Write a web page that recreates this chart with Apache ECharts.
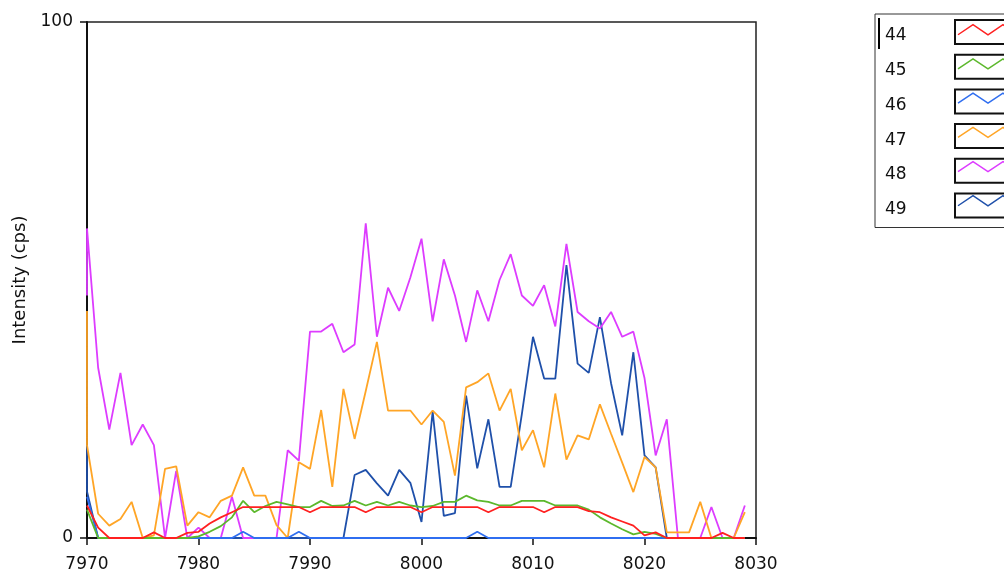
<!DOCTYPE html>
<html>
<head>
<meta charset="utf-8">
<script src="https://cdn.jsdelivr.net/npm/echarts@6/dist/echarts.min.js"></script>
<style>html,body{margin:0;padding:0;background:#fff;}#c{width:1004px;height:573px;}</style>
</head>
<body>
<div id="c"></div>
<script>
const xValues = [
  7970, 7971, 7972, 7973, 7974, 7975, 7976, 7977, 7978, 7979,
  7980, 7981, 7982, 7983, 7984, 7985, 7986, 7987, 7988, 7989,
  7990, 7991, 7992, 7993, 7994, 7995, 7996, 7997, 7998, 7999,
  8000, 8001, 8002, 8003, 8004, 8005, 8006, 8007, 8008, 8009,
  8010, 8011, 8012, 8013, 8014, 8015, 8016, 8017, 8018, 8019,
  8020, 8021, 8022, 8023, 8024, 8025, 8026, 8027, 8028, 8029
];
const seriesNames = ['44', '45', '46', '47', '48', '49'];
const seriesColors = ['#ff2020', '#5cb82c', '#2f6ef0', '#ffa526', '#dd3cff', '#1f50aa'];
const xTicks = [7970, 7980, 7990, 8000, 8010, 8020, 8030];
const yTicks = [0, 100];

const s44 = [
  6.3, 2, 0, 0, 0, 0, 1.1, 0, 0, 1,
  1.2, 2.8, 4, 5, 6, 6, 6, 6, 6, 6,
  5, 6, 6, 6, 6, 5, 6, 6, 6, 6,
  5, 6, 6, 6, 6, 6, 5, 6, 6, 6,
  6, 5, 6, 6, 6, 5.2, 5, 4, 3.2, 2.4,
  0.5, 1.1, 0, 0, 0, 0, 0, 1, 0, 0
];
const s45 = [
  5.5, 0, 0, 0, 0, 0, 0, 0, 0, 0,
  0.3, 1.2, 2.3, 4, 7.2, 5, 6.2, 7, 6.5, 6,
  6, 7.2, 6.2, 6.3, 7.2, 6.3, 7, 6.3, 7, 6.3,
  6, 6.2, 7, 7, 8.2, 7.3, 7, 6.3, 6.3, 7.2,
  7.2, 7.2, 6.3, 6.3, 6.3, 5.5, 4, 2.8, 1.7, 0.7,
  1.2, 0.8, 0, 0, 0, 0, 0, 0, 0, 0
];
const s46 = [
  8, 0, 0, 0, 0, 0, 0, 0, 0, 0,
  0, 0, 0, 0, 1.2, 0, 0, 0, 0, 1.2,
  0, 0, 0, 0, 0, 0, 0, 0, 0, 0,
  0, 0, 0, 0, 0, 1.2, 0, 0, 0, 0,
  0, 0, 0, 0, 0, 0, 0, 0, 0, 0,
  0, 0, 0, 0, 0, 0, 0, 0, 0, 0
];
const s47 = [
  18, 4.7, 2.4, 3.7, 7, 0, 0.5, 13.4, 13.9, 2.4,
  5, 4, 7.2, 8.2, 13.7, 8.2, 8.2, 2.5, 0, 14.7,
  13.4, 24.8, 9.9, 28.9, 19.2, 28.5, 38, 24.7, 24.7, 24.7,
  22, 24.7, 22.5, 12.1, 29.2, 30.2, 31.9, 24.7, 28.9, 17,
  20.9, 13.7, 28, 15.2, 19.9, 19.1, 25.9, 20.2, 14.6, 8.9,
  15.7, 13.7, 1.1, 1.1, 1.1, 7, 0, 0, 0, 5
];
const s48 = [
  60, 33, 21, 32, 18, 22, 18, 0, 13, 0,
  2, 0, 0, 8, 0, 0, 0, 0, 17, 15,
  40, 40, 41.5, 36, 37.5, 61, 39, 48.5, 44, 50.5,
  58, 42, 54, 47, 38, 48, 42, 50, 55, 47,
  45, 49, 41, 57, 43.8, 42, 40.6, 43.8, 39, 40,
  31, 16, 23, 0, 0, 0, 6, 0, 0, 6.3
];
const s49 = [
  9, 0, 0, 0, 0, 0, 0, 0, 0, 0,
  0, 0, 0, 0, 0, 0, 0, 0, 0, 0,
  0, 0, 0, 0, 12.2, 13.2, 10.6, 8.2, 13.2, 10.7,
  3.1, 24.5, 4.3, 4.8, 27.6, 13.5, 23, 9.9, 9.9, 24,
  39, 30.9, 30.9, 52.9, 33.8, 32, 42.8, 30, 19.9, 36,
  16, 13.7, 0, 0, 0, 0, 0, 0, 0, 0
];
// extra reading at the first x (steep drop drawn on the left edge)
const leadValues = [null, null, null, 44, 47, 18];

const allValues = [s44, s45, s46, s47, s48, s49];

function buildData(lead, vals) {
  const d = [];
  if (lead !== null) d.push([xValues[0], lead]);
  vals.forEach((v, i) => d.push([xValues[i], v]));
  return d;
}

const FONT = 'DejaVu Sans';
const series = [];
for (let k = seriesNames.length - 1; k >= 0; k--) {
  series.push({
    name: seriesNames[k],
    type: 'line',
    data: buildData(leadValues[k], allValues[k]),
    showSymbol: false,
    symbol: 'none',
    color: seriesColors[k],
    lineStyle: { color: seriesColors[k], width: 1.8 },
    clip: true,
    animation: false
  });
}

const zigzag = 'path://M0,0 M64,24 M3,15 L18,5 L33,15 L48,5 L63,15';
const legendCommon = {
  orient: 'vertical',
  left: 875,
  top: 14,
  padding: [5, 10, 9, 10],
  itemGap: 8.7,
  itemWidth: 64,
  itemHeight: 24,
  align: 'right',
  selectedMode: false,
  borderWidth: 1,
  formatter: '{t|{name}}'
};

function richText(color) {
  return { color: color, fontSize: 17, fontFamily: FONT, lineHeight: 16,
    rich: { t: { width: 65, align: 'left', color: color, fontSize: 17, fontFamily: FONT,
      lineHeight: 16, padding: [8, 0, 0, 0] } } };
}

const option = {
  animation: false,
  backgroundColor: '#ffffff',
  grid: {
    left: 87, right: 248, top: 22, bottom: 35,
    show: true, borderColor: '#222', borderWidth: 1.5, backgroundColor: '#fff'
  },
  xAxis: {
    type: 'value', min: xTicks[0], max: xTicks[xTicks.length - 1], interval: 10,
    axisLine: { show: true, onZero: false, lineStyle: { color: '#111', width: 2 } },
    axisTick: { show: true, length: 7, lineStyle: { color: '#111', width: 1.5 } },
    axisLabel: { show: true, margin: 18, color: '#111', fontSize: 17, fontFamily: FONT,
      formatter: v => String(v) },
    splitLine: { show: false }
  },
  yAxis: {
    type: 'value', min: yTicks[0], max: yTicks[1], interval: 100,
    name: 'Intensity (cps)', nameLocation: 'middle', nameGap: 58,
    nameTextStyle: { color: '#111', fontSize: 18, fontFamily: FONT },
    axisLine: { show: true, onZero: false, lineStyle: { color: '#111', width: 2 } },
    axisTick: { show: true, length: 7, lineStyle: { color: '#111', width: 1.5 } },
    axisLabel: { show: true, margin: 14, color: '#111', fontSize: 17, fontFamily: FONT,
      padding: [4, 0, 0, 0], formatter: v => String(v) },
    splitLine: { show: false }
  },
  legend: [
    Object.assign({}, legendCommon, {
      z: 4,
      borderColor: '#333',
      backgroundColor: '#fff',
      icon: 'rect',
      itemStyle: { color: '#ffffff', borderColor: '#111', borderWidth: 2 },
      textStyle: richText('#111'),
      data: seriesNames.map(n => ({ name: n }))
    }),
    Object.assign({}, legendCommon, {
      z: 6,
      borderColor: 'rgba(0,0,0,0)',
      icon: zigzag,
      textStyle: richText('rgba(0,0,0,0)'),
      data: seriesNames.map((n, i) => ({
        name: n,
        itemStyle: { color: 'rgba(0,0,0,0)', borderColor: seriesColors[i], borderWidth: 1.5 }
      }))
    })
  ],
  graphic: [{
    type: 'line', z: 100,
    shape: { x1: 879, y1: 18, x2: 879, y2: 49 },
    style: { stroke: '#000', lineWidth: 2 }
  }],
  series: series
};

const chart = echarts.init(document.getElementById('c'), null, { renderer: 'canvas' });
chart.setOption(option);
</script>
</body>
</html>
